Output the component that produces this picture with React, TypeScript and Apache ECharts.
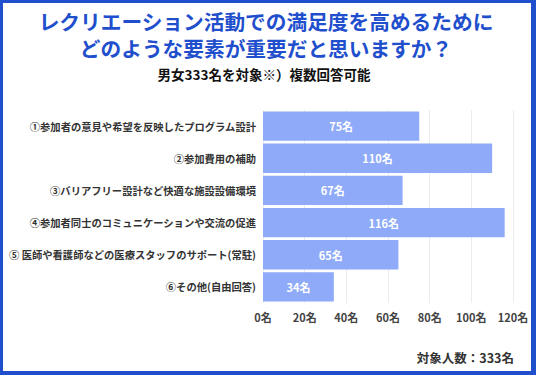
import React, { useEffect, useRef } from "react";
import * as echarts from "echarts";

const categories = [
  "①参加者の意見や希望を反映したプログラム設計",
  "②参加費用の補助",
  "③バリアフリー設計など快適な施設設備環境",
  "④参加者同士のコミュニケーションや交流の促進",
  "⑤ 医師や看護師などの医療スタッフのサポート(常駐)",
  "⑥その他(自由回答)",
];
const values = [75, 110, 67, 116, 65, 34];
const titleLines = [
  "レクリエーション活動での満足度を高めるために",
  "どのような要素が重要だと思いますか？",
];
const subtitle = "男女333名を対象※）複数回答可能";
const footnote = "対象人数：333名";

const FONT = "'Noto Sans CJK JP', 'Noto Sans', sans-serif";
const BLUE = "#1f4fcc";

export default function App() {
  const ref = useRef<HTMLDivElement>(null);
  useEffect(() => {
    const chart = echarts.init(ref.current!, undefined, { renderer: "svg" });
    chart.setOption({
      animation: false,
      backgroundColor: "#ffffff",
      textStyle: { fontFamily: FONT },
      grid: { left: 263, right: 23, top: 110, bottom: 72 },
      xAxis: {
        type: "value",
        min: 0,
        max: 120,
        interval: 20,
        axisLabel: {
          formatter: "{value}名",
          color: "#444",
          fontSize: 11,
          fontWeight: "bold",
          fontFamily: FONT,
          margin: 8,
        },
        splitLine: { show: true, lineStyle: { color: "#ececec" } },
        axisLine: { show: false },
        axisTick: { show: false },
      },
      yAxis: {
        type: "category",
        data: categories,
        inverse: true,
        axisLabel: {
          color: "#333",
          fontSize: 10.3,
          fontWeight: "bold",
          fontFamily: FONT,
          margin: 7,
        },
        axisLine: { show: false },
        axisTick: { show: false },
      },
      series: [
        {
          type: "bar",
          data: values,
          barCategoryGap: "9%",
          itemStyle: { color: "#8eaaf9" },
          label: {
            show: true,
            position: "inside",
            formatter: "{c}名",
            color: "#ffffff",
            fontSize: 11,
            fontWeight: "bold",
            fontFamily: FONT,
          },
        },
      ],
      graphic: [
        { type: "rect", left: 0, top: 0, shape: { width: 536, height: 3 }, style: { fill: BLUE } },
        { type: "rect", left: 0, top: 0, shape: { width: 3, height: 375 }, style: { fill: BLUE } },
        { type: "rect", left: 531, top: 0, shape: { width: 5, height: 375 }, style: { fill: BLUE } },
        { type: "rect", left: 0, top: 371, shape: { width: 536, height: 4 }, style: { fill: BLUE } },
        {
          type: "text",
          x: 266,
          y: 34.5,
          style: {
            text: titleLines.join("\n"),
            fill: BLUE,
            font: `bold 20.7px ${FONT}`,
            lineHeight: 27,
            textAlign: "center",
            textVerticalAlign: "middle",
          },
        },
        {
          type: "text",
          x: 264,
          y: 74,
          style: {
            text: subtitle,
            fill: "#111",
            font: `bold 13.5px ${FONT}`,
            textAlign: "center",
            textVerticalAlign: "middle",
          },
        },
        {
          type: "text",
          x: 514,
          y: 357,
          style: {
            text: footnote,
            fill: "#333",
            font: `bold 12.5px ${FONT}`,
            textAlign: "right",
            textVerticalAlign: "middle",
          },
        },
      ],
    });
    return () => chart.dispose();
  }, []);
  return (
    <div
      ref={ref}
      style={{ position: "fixed", left: 0, top: 0, width: 536, height: 375 }}
    />
  );
}
